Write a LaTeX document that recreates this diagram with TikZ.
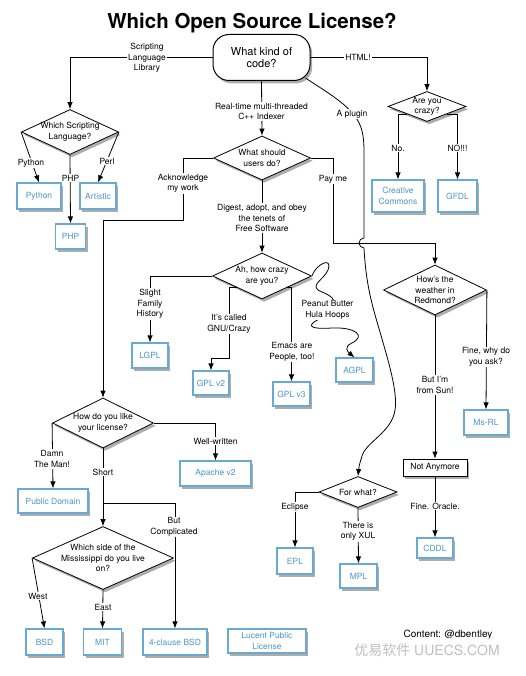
\documentclass[tikz,border=0pt]{standalone}
\usepackage{fontspec}
\setmainfont{TeX Gyre Heros}
\newfontfamily\cjkfont{Noto Sans CJK SC}
\usetikzlibrary{shapes.geometric,shadows,arrows.meta}
\definecolor{boxline}{RGB}{105,170,210}
\definecolor{boxtext}{RGB}{75,150,205}
\newcommand\smallfs{\fontsize{8.5}{10.5}\selectfont}
\begin{document}
\begin{tikzpicture}[x=1pt,y=-1pt,
  shade/.style={drop shadow={shadow xshift=2.2pt,shadow yshift=-2.8pt,opacity=.4,fill=black!80}},
  lic/.style={shade, draw=boxline, line width=1.2pt, fill=white, text=boxtext, font=\smallfs, align=center, inner sep=0pt},
  dia/.style={shade, diamond, draw=black, line width=.8pt, fill=white, inner sep=0pt},
  dtext/.style={font=\smallfs, align=center, inner sep=0pt},
  lbl/.style={font=\smallfs, align=center, fill=white, inner sep=1.2pt},
  arr/.style={draw=black, line width=.8pt, -{Latex[length=7pt,width=5.5pt]}},
]
\fill[white] (0,0) rectangle (525,676);
\useasboundingbox (0,0) rectangle (525,676);

% title
\node[font=\fontsize{20.5}{24}\selectfont\bfseries, anchor=base, inner sep=0pt] (title) at (252,29) {Which Open Source License?};

% start
\node[shade, draw, line width=1pt, fill=white, rounded corners=16pt, minimum width=97pt, minimum height=46pt, inner sep=0pt, align=center, font=\fontsize{11}{12.5}\selectfont] (s) at (261.5,57.5) {What kind of\\code?};

% diamonds
\node[dia, minimum width=97pt, minimum height=45pt] (lang) at (70,132) {};
\node[dtext] (lang-t) at (lang) {Which Scripting\\Language?};
\node[dia, minimum width=78pt, minimum height=30pt] (crazy) at (427,106.5) {};
\node[dtext] (crazy-t) at (crazy) {Are you\\crazy?};
\node[dia, minimum width=97pt, minimum height=44pt] (users) at (262,158) {};
\node[dtext] (users-t) at (users) {What should\\users do?};
\node[dia, minimum width=99pt, minimum height=46pt] (ah) at (262,276) {};
\node[dtext] (ah-t) at (ah) {Ah, how crazy\\are you?};
\node[dia, minimum width=103pt, minimum height=50pt] (red) at (435,290) {};
\node[dtext] (red-t) at (red) {How's the\\weather in\\Redmond?};
\node[dia, minimum width=101pt, minimum height=50pt] (how) at (103,423) {};
\node[dtext] (how-t) at (how) {How do you like\\your license?};
\node[dia, minimum width=78pt, minimum height=31pt] (forwhat) at (358,492) {};
\node[dtext] (forwhat-t) at (forwhat) {For what?};
\node[dia, minimum width=141pt, minimum height=63pt] (miss) at (103,558) {};
\node[dtext] (miss-t) at (miss) {Which side of the\\Mississippi do you live\\on?};

% license boxes
\node[lic, minimum width=44pt, minimum height=26pt] (python) at (39,196) {Python};
\node[lic, minimum width=36pt, minimum height=26pt] (artistic) at (98,196) {Artistic};
\node[lic, minimum width=30pt, minimum height=25pt] (php) at (70.5,236.5) {PHP};
\node[lic, minimum width=52pt, minimum height=32pt] (cc) at (398,196) {Creative\\Commons};
\node[lic, minimum width=39pt, minimum height=32pt] (gfdl) at (457.5,196) {GFDL};
\node[lic, minimum width=36pt, minimum height=25pt] (lgpl) at (150,355.5) {LGPL};
\node[lic, minimum width=36pt, minimum height=24pt] (gpl2) at (211,383) {GPL v2};
\node[lic, minimum width=37pt, minimum height=24pt] (gpl3) at (291.5,394) {GPL v3};
\node[lic, minimum width=37pt, minimum height=24pt] (agpl) at (354.5,370) {AGPL};
\node[lic, minimum width=44pt, minimum height=25pt] (msrl) at (486,422.5) {Ms-RL};
\node[shade, draw=black, line width=.8pt, fill=white, font=\smallfs, inner sep=0pt, minimum width=64pt, minimum height=17pt] (notany) at (435,467.5) {Not Anymore};
\node[lic, minimum width=36pt, minimum height=20pt] (cddl) at (435,548) {CDDL};
\node[lic, minimum width=36pt, minimum height=26pt] (epl) at (295,561) {EPL};
\node[lic, minimum width=37pt, minimum height=24pt] (mpl) at (358.5,576) {MPL};
\node[lic, minimum width=71pt, minimum height=25pt] (apache) at (215.5,473.5) {Apache v2};
\node[lic, minimum width=70pt, minimum height=24pt] (pd) at (53,501) {Public Domain};
\node[lic, minimum width=37pt, minimum height=26pt] (bsd) at (44.5,642) {BSD};
\node[lic, minimum width=38pt, minimum height=26pt] (mit) at (102.5,642) {MIT};
\node[lic, minimum width=64pt, minimum height=26pt] (fourbsd) at (175,642) {4-clause BSD};
\node[lic, minimum width=78pt, minimum height=24pt] (lucent) at (267,641) {Lucent Public\\License};

% connectors
\draw[arr] (s.west) -| (lang.north);
\draw[arr] (s.east) -| (crazy.north);
\draw[arr] (s.south) -- (users.north);
\draw[arr] (lang.west) -- (python.north);
\draw[arr] (lang.east) -- (artistic.north);
\draw[arr] (lang.south) -- (php.north);
\draw[arr] (crazy.south west) -| (cc.north);
\draw[arr] (crazy.south east) -| (gfdl.north);
\draw[arr] (users.west) -| (183,220) -| (how.north);
\draw[arr] (users.east) -| (333,243) -| (red.north);
\draw[arr] (users.south) -- (ah.north);
\draw[arr] (ah.west) -| (lgpl.north);
\draw[arr] (ah.south west) -| (229,358) -| (gpl2.north);
\draw[arr] (ah.south east) -| (gpl3.north);
\draw[arr] (ah.east) .. controls (316,264) and (333,256) .. (328,270)
  .. controls (324,280) and (307,286) .. (322,292)
  .. controls (332,296) and (336,300) .. (333,306)
  .. controls (328,316) and (320,318) .. (314,322)
  .. controls (306,328) and (318,329) .. (332,328)
  .. controls (356,327) and (366,336) .. (352,343)
  .. controls (343,347) and (348,352) .. (agpl.north);
\draw[arr] ([shift={(-5pt,3pt)}]s.south east) .. controls (320,88) and (342,100) .. (354,115)
  .. controls (362,125) and (364,135) .. (364,152) -- (364,238)
  arc[start angle=90,end angle=270,radius=5pt]
  .. controls (366,285) and (372,305) .. (380,332)
  .. controls (388,360) and (398,392) .. (395,410)
  .. controls (392,432) and (366,442) .. (362,456)
  .. controls (359,466) .. (forwhat.north);
\draw[arr] (red.south) -- (notany.north);
\draw[arr] (red.east) -- (msrl.north);
\draw[arr] (notany.south) -- (cddl.north);
\draw[arr] (forwhat.west) -| (epl.north);
\draw[arr] (forwhat.south) -- (mpl.north);
\draw[arr] (how.west) -- (pd.north);
\draw[arr] (how.east) -| (apache.north);
\draw[arr] (how.south) -- (miss.north);
\coordinate (br) at (103,503);
\draw[arr] (br) -| (fourbsd.north);
\draw[arr] (miss.west) -- (bsd.north);
\draw[arr] (miss.south) -- (mit.north);

% labels
\node[lbl] (l1) at (147,58) {Scripting\\Language\\Library};
\node[lbl] (l2) at (358,57.5) {HTML!};
\node[lbl] (l3) at (261.5,111.5) {Real-time multi-threaded\\C++ Indexer};
\node[lbl] (l4) at (31,163) {Python};
\node[lbl] (l5) at (107,161) {Perl};
\node[lbl] (l6) at (70.5,178) {PHP};
\node[lbl] (l7) at (398,148) {No.};
\node[lbl] (l8) at (457.5,148) {NO!!!};
\node[lbl] (l9) at (352,114) {A plugin};
\node[lbl] (l10) at (183,183.5) {Acknowledge\\my work};
\node[lbl] (l11) at (333,179) {Pay me};
\node[lbl] (l12) at (262,218) {Digest, adopt, and obey\\the tenets of\\Free Software};
\node[lbl] (l13) at (150,304) {Slight\\Family\\History};
\node[lbl] (l14) at (229,324) {It's called\\GNU/Crazy};
\node[lbl] (l15) at (292,352) {Emacs are\\People, too!};
\node[lbl] (l16) at (327.5,310) {Peanut Butter\\Hula Hoops};
\node[lbl] (l17) at (435,385) {But I'm\\from Sun!};
\node[lbl] (l18) at (486,357) {Fine, why do\\you ask?};
\node[lbl] (l19) at (435,506) {Fine. Oracle.};
\node[lbl] (l20) at (295,507) {Eclipse};
\node[lbl] (l21) at (358,531.5) {There is\\only XUL};
\node[lbl] (l22) at (52,459) {Damn\\The Man!};
\node[lbl] (l23) at (215.5,441) {Well-written};
\node[lbl] (l24) at (103,472) {Short};
\node[lbl] (l25) at (174,527) {But\\Complicated};
\node[lbl] (l26) at (38,596) {West};
\node[lbl] (l27) at (103,607) {East};

% footer
\node[font=\fontsize{10}{12}\selectfont, anchor=base, inner sep=0pt] (credit) at (448,637) {Content: @dbentley};
\node[fill=white, fill opacity=.75, text opacity=1, rounded corners=3pt, minimum width=170pt, minimum height=24pt, text=black!25, font=\fontsize{14}{16}\selectfont] (wm) at (427,650) {{\cjkfont 优易软件} UUECS.COM};
\end{tikzpicture}
\end{document}
